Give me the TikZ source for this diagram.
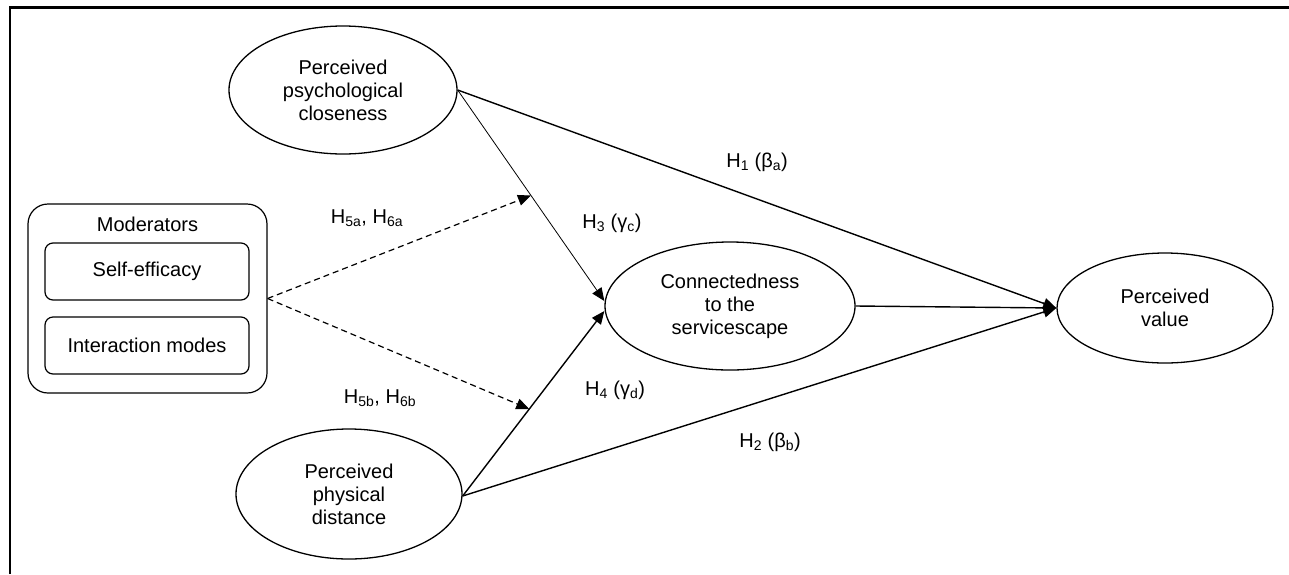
\documentclass[tikz,border=0pt]{standalone}
\usepackage{fontspec}
\setmainfont{Liberation Sans}
\usetikzlibrary{arrows.meta,shapes.geometric,calc}
\tikzset{
  ell/.style={draw, ellipse, line width=1.3pt, inner sep=0pt, align=center},
  outerbox/.style={draw, rounded corners=20pt, line width=1.2pt, inner sep=0pt},
  innerbox/.style={draw, rounded corners=8pt, line width=1.2pt, inner sep=0pt, minimum width=204pt, minimum height=57pt},
  conn/.style={line width=1.4pt, -{Triangle[length=13pt,width=11pt]}},
  thinconn/.style={line width=0.8pt, -{Triangle[length=13pt,width=11pt]}},
  modconn/.style={line width=1.2pt, dash pattern=on 6pt off 4pt, -{Triangle[length=13pt,width=11pt]}},
  lbl/.style={inner sep=0pt}
}
\begin{document}
\begin{tikzpicture}[x=1pt,y=-1pt,font=\fontsize{20}{23}\selectfont]
\useasboundingbox (0,0) rectangle (1289,574);
\draw[line width=2.2pt] (10,574) -- (10,7.5) -- (1289,7.5);

\node[ell, minimum width=228pt, minimum height=128pt] (psy) at (343,90) {Perceived\\psychological\\closeness};
\node[ell, minimum width=226pt, minimum height=130pt] (phy) at (349,494) {Perceived\\physical\\distance};
\node[ell, minimum width=250pt, minimum height=128pt] (cts) at (730,306) {Connectedness\\to the\\servicescape};
\node[ell, minimum width=216pt, minimum height=110pt] (pv) at (1165,308) {Perceived\\value};

\node[outerbox, minimum width=239pt, minimum height=189pt] (mod) at (147.5,298.5) {};
\node[lbl] (modt) at (147.5,224) {Moderators};
\node[innerbox] (se) at (147,271.5) {Self-efficacy};
\node[innerbox] (im) at (147,345.5) {Interaction modes};

\coordinate (h3end) at ([yshift=5pt]cts.west);
\coordinate (h4end) at ([yshift=-5pt]cts.west);
\coordinate (h4start) at ([yshift=-2pt]phy.east);

\draw[thinconn] (psy.east) -- (h3end);
\draw[conn] (h4start) -- (h4end);
\draw[conn] (psy.east) -- (pv.west);
\draw[conn] (h4start) -- (pv.west);
\draw[conn] (cts.east) -- (pv.west);

\coordinate (m1) at ($(psy.east)!0.5!(h3end)$);
\coordinate (m2) at ($(h4start)!0.47!(h4end)$);
\draw[modconn] (mod.east) -- (m1);
\draw[modconn] (mod.east) -- (m2);

\node[lbl] (l1) at (757,162) {H\textsubscript{1} (β\textsubscript{a})};
\node[lbl] (l3) at (612,223) {H\textsubscript{3} (γ\textsubscript{c})};
\node[lbl] (l4) at (615,390) {H\textsubscript{4} (γ\textsubscript{d})};
\node[lbl] (l2) at (770,442) {H\textsubscript{2} (β\textsubscript{b})};
\node[lbl] (l5a) at (367,218) {H\textsubscript{5a}, H\textsubscript{6a}};
\node[lbl] (l5b) at (380,398) {H\textsubscript{5b}, H\textsubscript{6b}};
\end{tikzpicture}
\end{document}
